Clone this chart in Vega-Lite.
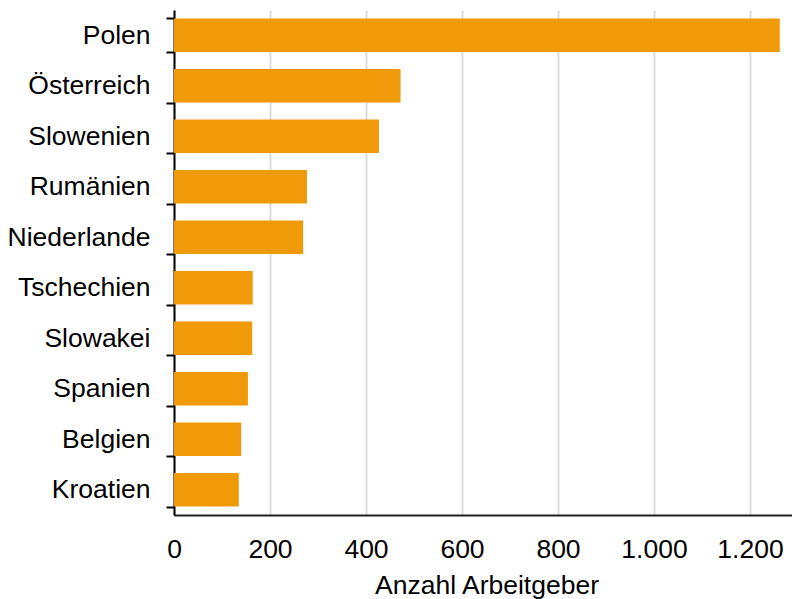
{
  "$schema": "https://vega.github.io/schema/vega-lite/v6.json",
  "autosize": {"type": "none"},
  "padding": {"left": 174, "top": 10, "right": 0, "bottom": 84},
  "width": 618,
  "height": 505,
  "background": "white",
  "config": {
    "view": {"stroke": null},
    "font": "Liberation Sans"
  },
  "data": {
    "values": [
      {"land": "Polen", "anzahl": 1262},
      {"land": "Österreich", "anzahl": 472},
      {"land": "Slowenien", "anzahl": 427},
      {"land": "Rumänien", "anzahl": 277},
      {"land": "Niederlande", "anzahl": 269},
      {"land": "Tschechien", "anzahl": 164},
      {"land": "Slowakei", "anzahl": 163},
      {"land": "Spanien", "anzahl": 154},
      {"land": "Belgien", "anzahl": 140},
      {"land": "Kroatien", "anzahl": 135}
    ]
  },
  "mark": {"type": "bar", "color": "#f09a0a"},
  "encoding": {
    "y": {
      "field": "land",
      "type": "nominal",
      "sort": null,
      "scale": {"paddingInner": 0.333, "paddingOuter": 0.1667},
      "axis": {
        "title": null,
        "tickBand": "extent",
        "domainColor": "black",
        "domainWidth": 2,
        "tickColor": "black",
        "tickWidth": 2,
        "tickSize": 8,
        "labelPadding": 16,
        "labelFontSize": 26.5,
        "labelColor": "black",
        "labelFont": "Liberation Sans",
        "grid": false
      }
    },
    "x": {
      "field": "anzahl",
      "type": "quantitative",
      "scale": {"domain": [0, 1287.5], "nice": false, "zero": true},
      "axis": {
        "title": "Anzahl Arbeitgeber",
        "values": [0, 200, 400, 600, 800, 1000, 1200],
        "format": ",d",
        "labelExpr": "replace(datum.label, ',', '.')",
        "ticks": false,
        "tickSize": 0,
        "labelPadding": 21,
        "labelFontSize": 26.5,
        "labelColor": "black",
        "labelFont": "Liberation Sans",
        "labelFlush": false,
        "domainColor": "#222222",
        "domainWidth": 2,
        "grid": true,
        "gridColor": "#dcdcdc",
        "gridWidth": 2,
        "titleFontSize": 26.5,
        "titleFontWeight": "normal",
        "titleColor": "black",
        "titleFont": "Liberation Sans",
        "titleBaseline": "alphabetic",
        "titleX": 312.5,
        "titleY": 78.3
      }
    }
  }
}
